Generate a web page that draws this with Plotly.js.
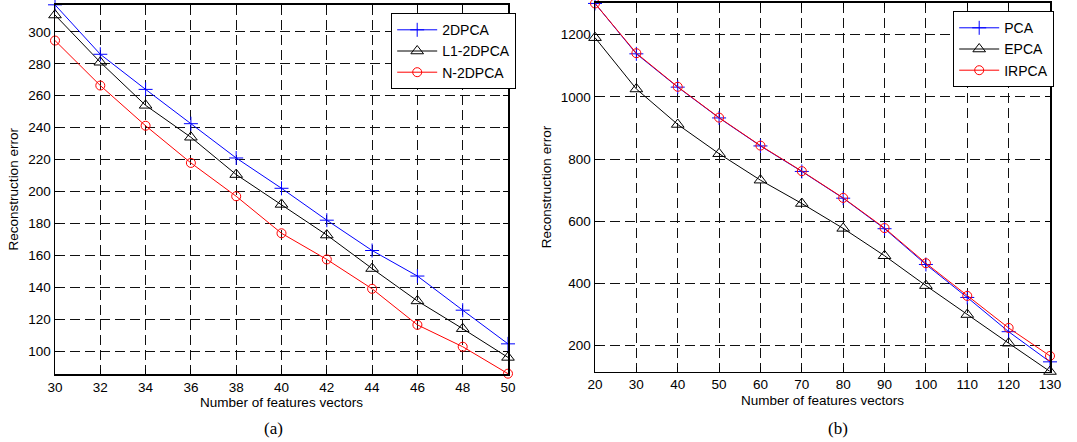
<!DOCTYPE html>
<html>
<head>
<meta charset="utf-8">
<script src="https://cdn.plot.ly/plotly-3.0.1.min.js"></script>
<style>html,body{margin:0;padding:0;background:#fff;}#chart{width:1077px;height:442px;}</style>
</head>
<body>
<div id="chart"></div>
<script>
// Panel (a)
const featuresA = [30, 32, 34, 36, 38, 40, 42, 44, 46, 48, 50];
const err2DPCA  = [317, 286, 264, 242.5, 221, 202, 182, 163, 147, 125.6, 104.5];
const errL12DPCA = [310.6, 281, 254, 234, 210.6, 191.9, 172.7, 151.7, 131.4, 114, 96];
const errN2DPCA = [294.6, 266.4, 241.2, 217.9, 197, 173.8, 157.4, 139, 116.4, 102.7, 85.8];
const ticksA_x = [30, 32, 34, 36, 38, 40, 42, 44, 46, 48, 50];
const ticksA_y = [100, 120, 140, 160, 180, 200, 220, 240, 260, 280, 300];

// Panel (b)
const featuresB = [20, 30, 40, 50, 60, 70, 80, 90, 100, 110, 120, 130];
const errPCA   = [1300, 1138, 1031, 932, 842, 760, 674, 576, 461, 355, 245, 148];
const errEPCA  = [1190, 1025, 911, 817, 732, 657, 577, 489, 393, 300, 208, 117];
const errIRPCA = [1300, 1140, 1032, 933, 843, 761, 675, 578, 465, 360, 257, 167];
const ticksB_x = [20, 30, 40, 50, 60, 70, 80, 90, 100, 110, 120, 130];
const ticksB_y = [200, 400, 600, 800, 1000, 1200];

const sans = 'Liberation Sans, Arial, sans-serif';
const serif = 'Liberation Serif, Times New Roman, serif';

function tr(x, y, name, color, symbol, size, xa, ya, leg) {
  return {
    x: x, y: y, name: name, type: 'scatter', mode: 'lines+markers',
    xaxis: xa, yaxis: ya, legend: leg, cliponaxis: false,
    line: {color: color, width: 1},
    marker: {symbol: symbol, size: size, color: color, line: {color: color, width: 1}}
  };
}

const data = [
  tr(featuresA, err2DPCA, '2DPCA', '#0000ff', 'cross-thin-open', 10, 'x', 'y', 'legend'),
  tr(featuresA, errL12DPCA, 'L1-2DPCA', '#000000', 'triangle-up-open', 11, 'x', 'y', 'legend'),
  tr(featuresA, errN2DPCA, 'N-2DPCA', '#ff0000', 'circle-open', 9, 'x', 'y', 'legend'),
  tr(featuresB, errPCA, 'PCA', '#0000ff', 'cross-thin-open', 10, 'x2', 'y2', 'legend2'),
  tr(featuresB, errEPCA, 'EPCA', '#000000', 'triangle-up-open', 11, 'x2', 'y2', 'legend2'),
  tr(featuresB, errIRPCA, 'IRPCA', '#ff0000', 'circle-open', 9, 'x2', 'y2', 'legend2')
];

function ax(extra) {
  return Object.assign({
    showline: true, linecolor: '#000', linewidth: 1.5, mirror: 'ticks',
    ticks: 'inside', ticklen: 5, tickcolor: '#000', tickwidth: 1,
    showgrid: true, gridcolor: '#111', gridwidth: 1, griddash: '10px,5px',
    zeroline: false, tickmode: 'array',
    tickfont: {family: sans, size: 13.5, color: '#000'}
  }, extra);
}

const titleFont = {family: sans, size: 13.5, color: '#000'};
const W = 1077, H = 442;
const legendBase = {xanchor: 'left', yanchor: 'top', bgcolor: '#fff',
  bordercolor: '#000', borderwidth: 1.2, font: {family: sans, size: 14, color: '#000'},
  tracegroupgap: 0, itemwidth: 40, valign: 'middle'};
const layout = {
  width: W, height: H,
  margin: {l: 0, r: 0, t: 0, b: 0},
  paper_bgcolor: '#fff', plot_bgcolor: '#fff',
  showlegend: true,
  xaxis: ax({domain: [55/W, 508/W], range: [30, 50], tickvals: ticksA_x, anchor: 'y',
    title: {text: 'Number of features vectors', font: titleFont, standoff: 4}}),
  yaxis: ax({domain: [1 - 374/H, 1 - 4.5/H], range: [85.6, 317.2], tickvals: ticksA_y, anchor: 'x',
    title: {text: 'Reconstruction error', font: titleFont, standoff: 6}}),
  xaxis2: ax({domain: [595/W, 1050/W], range: [20, 130], tickvals: ticksB_x, anchor: 'y2',
    title: {text: 'Number of features vectors', font: titleFont, standoff: 4}}),
  yaxis2: ax({domain: [1 - 371.5/H, 1 - 2.5/H], range: [117, 1303], tickvals: ticksB_y, anchor: 'x2',
    title: {text: 'Reconstruction error', font: titleFont, standoff: 6}}),
  legend: Object.assign({x: 391/W, y: 1 - 13/H}, legendBase),
  legend2: Object.assign({x: 953/W, y: 1 - 11/H}, legendBase),
  annotations: [
    {text: '(a)', xref: 'paper', yref: 'paper', x: 273/W, y: 1 - 428/H, xanchor: 'center', yanchor: 'middle',
     showarrow: false, font: {family: serif, size: 17, color: '#000'}},
    {text: '(b)', xref: 'paper', yref: 'paper', x: 838/W, y: 1 - 428/H, xanchor: 'center', yanchor: 'middle',
     showarrow: false, font: {family: serif, size: 17, color: '#000'}}
  ]
};

Plotly.newPlot('chart', data, layout, {staticPlot: true, displayModeBar: false});
</script>
</body>
</html>
